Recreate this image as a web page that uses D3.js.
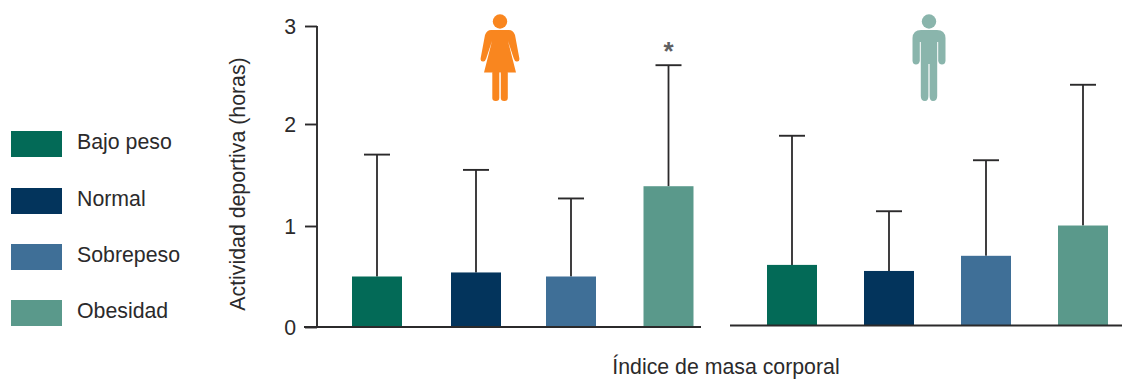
<!DOCTYPE html>
<html>
<head>
<meta charset="utf-8">
<script src="https://cdn.jsdelivr.net/npm/d3@7"></script>
<style>
html,body{margin:0;padding:0;background:#fff;overflow:hidden}
svg{display:block}
text{font-family:"Liberation Sans",Arial,sans-serif;fill:#2b2a2b}
</style>
</head>
<body>
<svg id="c" width="1122" height="379"></svg>
<script>
const categories = ["Bajo peso","Normal","Sobrepeso","Obesidad"];
const colors = ["#036a57","#03345c","#3f6f97","#5a998b"];
const femaleValues = [0.5,0.54,0.5,1.39];
const femaleTops = [1.7,1.55,1.27,2.6];
const maleValues = [0.6,0.54,0.69,0.99];
const maleTops = [1.87,1.13,1.63,2.385];
const yTicks = [0,1,2,3];
const yTitle = "Actividad deportiva (horas)";
const xTitle = "Índice de masa corporal";

const svg = d3.select("#c");
const ink = "#2b2a2b";
const fs = "21.3px";
const y = d3.scaleLinear().domain([0,1,2,3]).range([327,226,124,26]);
const color = d3.scaleOrdinal(categories,colors);
const xF = d3.scaleOrdinal(categories,[377,476,571,668.5]);
const xM = d3.scaleOrdinal(categories,[792,889,986,1083]);

function group(cx,vals,tops,dy){
  const g = svg.append("g").attr("transform",`translate(0,${dy})`);
  const d = categories.map((c,i)=>({c,v:vals[i],t:tops[i]}));
  g.selectAll("line.err").data(d).join("line").attr("class","err")
    .attr("x1",e=>cx(e.c)).attr("x2",e=>cx(e.c)).attr("y1",e=>y(e.v)).attr("y2",e=>y(e.t))
    .attr("stroke",ink).attr("stroke-width",1.8);
  g.selectAll("line.cap").data(d).join("line").attr("class","cap")
    .attr("x1",e=>cx(e.c)-13).attr("x2",e=>cx(e.c)+13).attr("y1",e=>y(e.t)).attr("y2",e=>y(e.t))
    .attr("stroke",ink).attr("stroke-width",1.9);
  g.selectAll("rect").data(d).join("rect")
    .attr("x",e=>cx(e.c)-25).attr("width",50)
    .attr("y",e=>y(e.v)).attr("height",e=>y(0)-y(e.v))
    .attr("fill",e=>color(e.c));
}
group(xF,femaleValues,femaleTops,0);
group(xM,maleValues,maleTops,-1.5);

// y axis
const ax = svg.append("g").attr("transform","translate(317,0)")
  .call(d3.axisLeft(y).tickValues(yTicks).tickFormat(d3.format("d")).tickSize(12).tickPadding(9));
ax.select(".domain").remove();
ax.selectAll("line").attr("stroke",ink).attr("stroke-width",1.9);
ax.selectAll("text").style("font-size",fs).attr("fill",ink).attr("dy","0.34em");
svg.append("line").attr("x1",317).attr("x2",317).attr("y1",y(3)).attr("y2",y(0)).attr("stroke",ink).attr("stroke-width",1.9);
// baselines
svg.append("line").attr("x1",304).attr("x2",701).attr("y1",y(0)).attr("y2",y(0)).attr("stroke",ink).attr("stroke-width",2.2);
svg.append("line").attr("x1",730).attr("x2",1122).attr("y1",y(0)-1.5).attr("y2",y(0)-1.5).attr("stroke",ink).attr("stroke-width",2.2);

// titles
svg.append("text").attr("transform","translate(245,184) rotate(-90)").attr("text-anchor","middle")
  .style("font-size",fs).text(yTitle);
svg.append("text").attr("x",726).attr("y",374).attr("text-anchor","middle").style("font-size",fs).text(xTitle);
svg.append("text").attr("x",668.5).attr("y",60).attr("text-anchor","middle")
  .style("font-size","26px").style("font-weight","bold").style("fill","#5f6062").text("*");

// legend
const leg = svg.append("g");
const legendY = [143,200,256,312];
categories.forEach((c,i)=>{
  leg.append("rect").attr("x",11).attr("y",legendY[i]-12).attr("width",51).attr("height",26).attr("fill",color(c));
  leg.append("text").attr("x",77).attr("y",legendY[i]+6).style("font-size",fs).text(c);
});

// icons
const female = svg.append("g").attr("fill","#f9861f");
female.append("circle").attr("cx",500).attr("cy",21.5).attr("r",7.2);
female.append("path").attr("d","M491 30 H509 Q513 30 515 35 L519.3 58 Q520 62 516.5 61.5 Q514.5 61 513.8 58.5 L508 41 L516 72.5 H484 L492 41 L486.2 58.5 Q485.5 61 483.5 61.5 Q480 62 480.7 58 L485 35 Q487 30 491 30Z");
female.append("rect").attr("x",492.3).attr("y",70).attr("width",7).attr("height",31).attr("rx",3.3);
female.append("rect").attr("x",500.8).attr("y",70).attr("width",7).attr("height",31).attr("rx",3.3);

const male = svg.append("g").attr("fill","#8ab5ac");
male.append("circle").attr("cx",929).attr("cy",21.5).attr("r",7.2);
male.append("path").attr("d","M921 30 H937 Q945 30 945.5 38 V61 Q945 64.5 942 64.5 Q939 64.5 938.2 61 V42 H937.2 V96 Q937.2 101 933 101 Q929.6 101 929.6 96 V64 H928.4 V96 Q928.4 101 925 101 Q920.8 101 920.8 96 V42 H919.8 V61 Q919 64.5 916 64.5 Q913 64.5 912.5 61 V38 Q913 30 921 30Z");
</script>
</body>
</html>
